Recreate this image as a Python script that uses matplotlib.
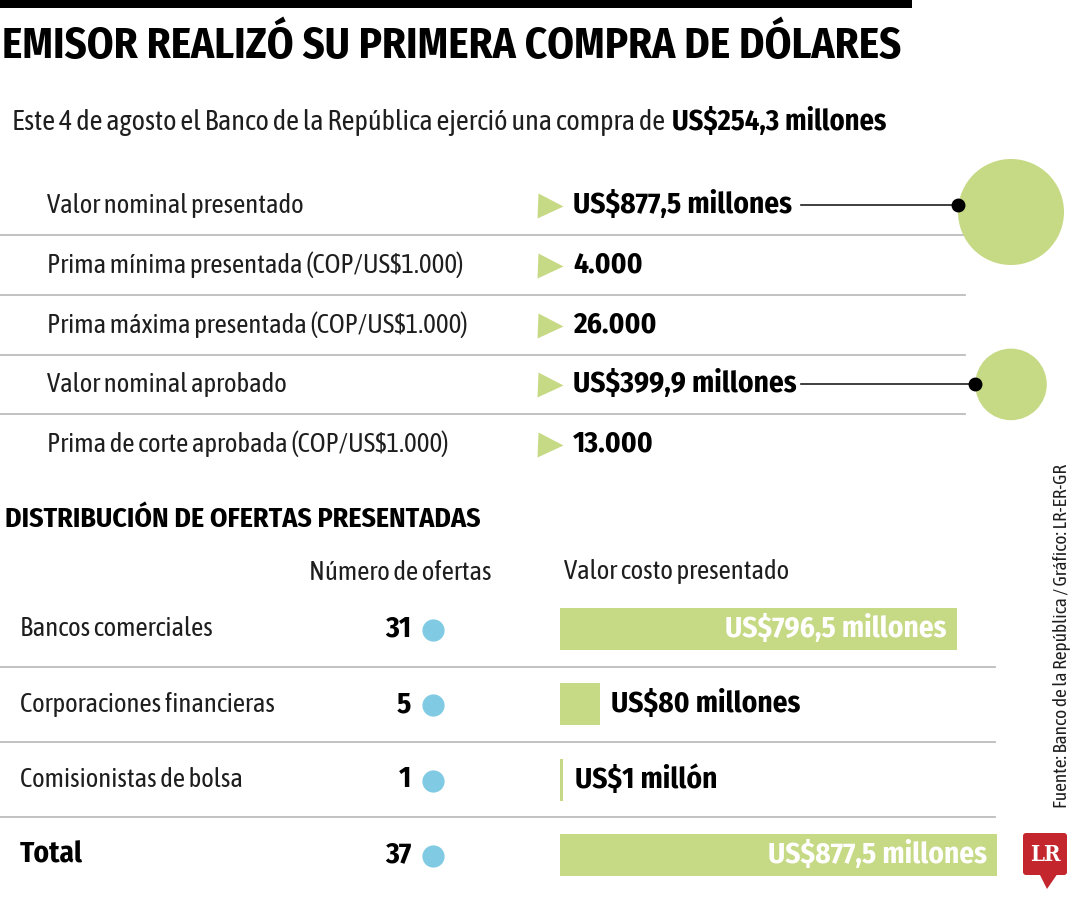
import matplotlib
matplotlib.use("Agg")
import numpy as np
import matplotlib.pyplot as plt
from matplotlib.patches import Circle, Rectangle, Polygon, FancyBboxPatch

# Datos
title = "EMISOR REALIZÓ SU PRIMERA COMPRA DE DÓLARES"
intro = "Este 4 de agosto el Banco de la República ejerció una compra de"
intro_bold = "US$254,3 millones"

subasta_labels = [
    "Valor nominal presentado",
    "Prima mínima presentada (COP/US$1.000)",
    "Prima máxima presentada (COP/US$1.000)",
    "Valor nominal aprobado",
    "Prima de corte aprobada (COP/US$1.000)",
]
subasta_values = ["US$877,5 millones", "4.000", "26.000", "US$399,9 millones", "13.000"]
circle_rows = [0, 3]
circle_millones = [877.5, 399.9]

section = "DISTRIBUCIÓN DE OFERTAS PRESENTADAS"
col_ofertas = "Número de ofertas"
col_valor = "Valor costo presentado"
tipos = ["Bancos comerciales", "Corporaciones financieras", "Comisionistas de bolsa", "Total"]
num_ofertas = [31, 5, 1, 37]
valor_costo = [796.5, 80, 1, 877.5]
valor_labels = ["US$796,5 millones", "US$80 millones", "US$1 millón", "US$877,5 millones"]
fuente = "Fuente: Banco de la República / Gráfico: LR-ER-GR"

FAM = ["Fira Sans Condensed", "PT Sans Narrow", "Asap Condensed", "DejaVu Sans"]
REG = ["Asap Condensed", "Fira Sans Condensed", "DejaVu Sans"]
plt.rcParams["font.family"] = FAM
plt.rcParams["font.stretch"] = "condensed"

GREEN = "#c6d985"
BLUE = "#80cbe3"
GRID = "#bdbdbd"
INK = "#1e1e1e"

W, H = 1080, 900
fig = plt.figure(figsize=(W / 100, H / 100), dpi=100)
ax = fig.add_axes([0, 0, 1, 1])
ax.set_xlim(0, W)
ax.set_ylim(H, 0)
ax.axis("off")

groups = {"title": [], "reg": [], "bold": [], "section": [], "src": [], "intro": []}


def txt(group, x, y, s, **kw):
    kw.setdefault("fontsize", 19)
    kw.setdefault("va", "center")
    kw.setdefault("ha", "left")
    if kw.get("fontweight") != "bold":
        kw.setdefault("family", REG)
    t = ax.text(x, y, s, **kw)
    groups[group].append(t)
    return t


# barra superior y titulo
ax.add_patch(Rectangle((0, 0), 912, 8, color="black", lw=0))
t_title = txt("title", 2, 47, title, fontweight="bold", color="black")

t_intro = txt("intro", 12, 130, intro, fontsize=20, va="baseline", color=INK)
t_intro_b = txt("intro", 12, 130, intro_bold, fontsize=20, va="baseline", fontweight="bold",
                color="black")

# tabla de la subasta
rows1 = np.arange(len(subasta_labels)) * 59.8 + 205
ref_reg = ref_bold = None
for i, (lab, val) in enumerate(zip(subasta_labels, subasta_values)):
    y = rows1[i]
    a = txt("reg", 47, y, lab, color=INK)
    ax.plot(550, y + 1, marker=">", ms=18, color=GREEN, mec="none")
    b = txt("bold", 573, y, val, fontweight="bold", color="black")
    if i == 0:
        ref_reg, ref_bold = a, b
for y in (rows1[:-1] + rows1[1:]) / 2:
    ax.plot([0, 965], [y, y], color=GRID, lw=1.3, zorder=1)

# circulos proporcionales al valor nominal
r_max = 53
for row, v in zip(circle_rows, circle_millones):
    r = r_max * np.sqrt(v / max(circle_millones))
    y = rows1[row]
    cy = y + 7 if row == 0 else y
    ax.add_patch(Circle((1011, cy), r, color=GREEN, lw=0, zorder=2))
    ax.plot([801, 1011 - r], [y, y], color=INK, lw=1.2, zorder=3)
    ax.plot(1011 - r, y, "o", ms=9, color="black", zorder=4)

# distribucion de ofertas
t_sec = txt("section", 5, 519, section, fontweight="bold", color="black")
txt("reg", 400, 572, col_ofertas, ha="center", color=INK)
txt("reg", 564, 572, col_valor, color=INK)

rows2 = np.arange(len(tipos)) * 75.3 + 629
for i, (tipo, n) in enumerate(zip(tipos, num_ofertas)):
    y = rows2[i]
    if tipo == "Total":
        txt("bold", 20, y, tipo, fontweight="bold", color="black")
    else:
        txt("reg", 20, y, tipo, color=INK)
    txt("bold", 411, y, str(n), fontweight="bold", ha="right", color="black")
    ax.plot(433, y + 1, "o", ms=16, color=BLUE, mec="none")
for y in (rows2[:-1] + rows2[1:]) / 2:
    ax.plot([0, 995], [y, y], color=GRID, lw=1.3, zorder=1)

# barras de valor costo presentado
axb = fig.add_axes([560 / W, 0, 437 / W, 1])
axb.set_xlim(0, max(valor_costo))
axb.set_ylim(H, 0)
axb.axis("off")
axb.patch.set_alpha(0)
shown = np.maximum(valor_costo, 7)  # ancho minimo visible
axb.barh(rows2, shown, height=42, color=GREEN, lw=0)
for y, v, s, lab in zip(rows2, valor_costo, shown, valor_labels):
    if v > 400:
        t = axb.annotate(lab, (s, y), xytext=(-7, 0), textcoords="offset points", ha="right",
                         va="center", fontsize=19, fontweight="bold", color="white")
    else:
        t = axb.annotate(lab, (s, y), xytext=(8, 0), textcoords="offset points", ha="left",
                         va="center", fontsize=19, fontweight="bold", color="black")
    groups["bold"].append(t)

# fuente y logo
t_src = txt("src", 1062, 636, fuente, fontsize=13, rotation=90, ha="center", color=INK)
ax.add_patch(FancyBboxPatch((1023, 833), 44, 42, boxstyle="round,pad=0,rounding_size=3",
                            color="#c4262e", lw=0))
ax.add_patch(Polygon([[1039, 873], [1058, 873], [1047, 889]], color="#c4262e", lw=0))
ax.text(1045, 855, "LR", fontsize=16, fontweight="bold", family=["DejaVu Serif"],
        stretch="condensed", color="white", va="center", ha="center")

# ajustar tamaños a los anchos de la referencia
renderer = fig.canvas.get_renderer()
GAP = 7


def width(t):
    bb = t.get_window_extent(renderer)
    return max(bb.width, bb.height) if t.get_rotation() else bb.width


def fit(group, ref_w, target):
    k = target / ref_w
    for t in groups[group]:
        t.set_fontsize(t.get_fontsize() * k)


fig.canvas.draw()
fit("title", width(t_title), 901)
fit("reg", width(ref_reg), 258)
fit("bold", width(ref_bold), 219)
fit("section", width(t_sec), 478)
fit("src", width(t_src), 343)
fit("intro", width(t_intro) + width(t_intro_b), 873 - GAP)

# parte en negrita del subtitulo, despues de la parte normal
fig.canvas.draw()
bb = t_intro.get_window_extent(renderer)
x_end = ax.transData.inverted().transform((bb.x1, bb.y0))[0]
t_intro_b.set_x(x_end + GAP)

fig.savefig("out.png", dpi=100)
